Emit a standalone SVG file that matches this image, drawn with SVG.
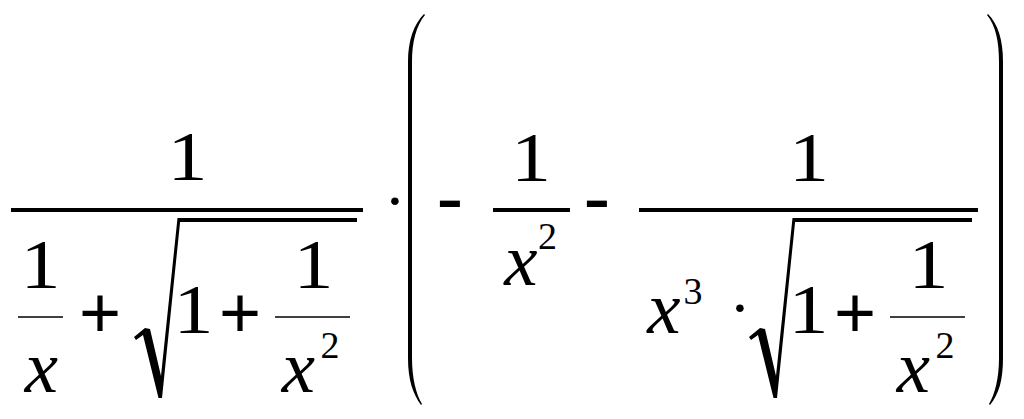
<svg xmlns="http://www.w3.org/2000/svg" xmlns:xlink="http://www.w3.org/1999/xlink" width="1024" height="419" viewBox="0 0 1024 419">
<style>
.n{font-family:"Liberation Serif","Times New Roman",serif;font-size:70px;fill:#000;text-anchor:middle}
.v{font-family:"Liberation Serif","Times New Roman",serif;font-style:italic;font-size:75px;fill:#000;text-anchor:middle}
.s{font-family:"Liberation Serif","Times New Roman",serif;font-size:38px;fill:#000;text-anchor:middle}
.op{font-family:"Liberation Sans",Arial,sans-serif;fill:#000;text-anchor:middle}
.dot{font-family:"Liberation Serif","Times New Roman",serif;font-size:64px;fill:#000;text-anchor:middle}
.bar{stroke:#000;stroke-width:4}
.thin{stroke:#000;stroke-width:1.3}
</style>
<defs>
<path id="rad" d="M134,337 L145,328 L150,329 L161,376 L177.5,218 L180.5,218 L162,398 L158.5,398 L143,335 L136,340 Z" fill="#000"/>
<g id="radicand">
<use xlink:href="#rad"/>
<line class="bar" x1="179" y1="220" x2="357" y2="220" stroke-width="3.5"/>
<text class="n" x="193.5" y="333" textLength="40" lengthAdjust="spacingAndGlyphs">1</text>
<text class="op" x="240" y="337" font-size="72">+</text>
<line class="thin" x1="275" y1="317" x2="350" y2="317"/>
<text class="n" x="313.5" y="288" textLength="40" lengthAdjust="spacingAndGlyphs">1</text>
<text class="v" x="298.5" y="392">x</text>
<text class="s" x="330" y="358">2</text>
</g>
</defs>
<g id="left-fraction">
<text class="n" x="187.5" y="180" textLength="40" lengthAdjust="spacingAndGlyphs">1</text>
<line class="bar" x1="11" y1="210" x2="363" y2="210"/>
<g id="one-over-x">
<text class="n" x="40.5" y="288" textLength="40" lengthAdjust="spacingAndGlyphs">1</text>
<line class="thin" x1="18" y1="317" x2="63" y2="317"/>
<text class="v" x="41.5" y="392">x</text>
</g>
<text class="op" x="100" y="337" font-size="72">+</text>
<use id="sqrt-left" xlink:href="#radicand"/>
</g>
<g id="times">
<text class="dot" x="395" y="222">·</text>
</g>
<g id="paren-left">
<path d="M424,14 C414,24 408,40 408,62 L408,358 C408,380 413,394 421,405 L422,404 C416,394 412,378 412,358 L412,62 C412,42 416,26 425,15 Z" fill="#000"/>
</g>
<g id="minus-1">
<text class="op" x="450" y="226" font-size="82">-</text>
</g>
<g id="middle-fraction">
<text class="n" x="531" y="181" textLength="40" lengthAdjust="spacingAndGlyphs">1</text>
<line class="bar" x1="493" y1="210" x2="570" y2="210" stroke-width="3.5"/>
<text class="v" x="521" y="285">x</text>
<text class="s" x="547.5" y="249">2</text>
</g>
<g id="minus-2">
<text class="op" x="597" y="226" font-size="82">-</text>
</g>
<g id="right-fraction">
<text class="n" x="809" y="181" textLength="40" lengthAdjust="spacingAndGlyphs">1</text>
<line class="bar" x1="639" y1="210" x2="978" y2="210"/>
<text class="v" x="664" y="333">x</text>
<text class="s" x="693" y="304">3</text>
<text class="dot" x="740" y="329">·</text>
<use id="sqrt-right" xlink:href="#radicand" transform="translate(615,0)"/>
</g>
<g id="paren-right">
<path d="M988,14 C998,24 1003,40 1003,62 L1003,358 C1003,380 999,394 990,405 L989,404 C995,394 999,378 999,358 L999,62 C999,42 996,26 987,15 Z" fill="#000"/>
</g>
</svg>
